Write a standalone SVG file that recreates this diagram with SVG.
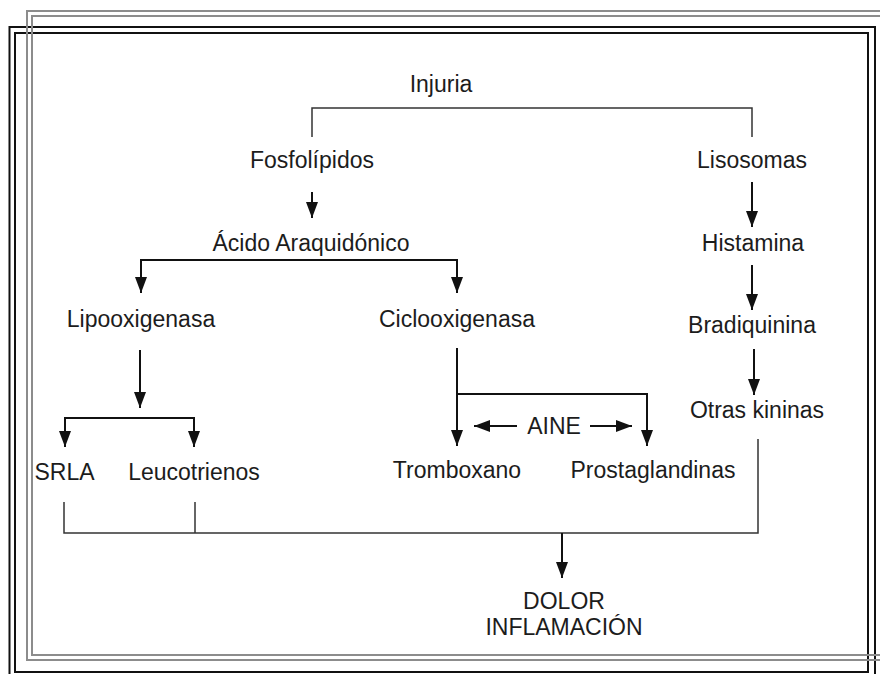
<svg xmlns="http://www.w3.org/2000/svg" width="880" height="674" viewBox="0 0 880 674">
<style>
.t{font-family:"Liberation Sans",Arial,sans-serif;font-size:23px;fill:#1c1c1c;text-anchor:middle}
.a{stroke:#111;stroke-width:2;fill:none;marker-end:url(#ah)}
.s{stroke:#111;stroke-width:2;fill:none}
.th{stroke:#333;stroke-width:1.5;fill:none}
.fg{fill:none;stroke:#8c8c8c;stroke-width:2}
.fb{fill:none;stroke:#111;stroke-width:2}
</style>
<defs>
<marker id="ah" viewBox="0 0 16 12" refX="16" refY="6" markerWidth="16" markerHeight="12" markerUnits="userSpaceOnUse" orient="auto">
<path d="M0,0 L16,6 L0,12 z" fill="#111"/>
</marker>
</defs>
<rect width="880" height="674" fill="#fff"/>
<g id="frame">
<rect class="fb" x="9.5" y="27" width="865.5" height="655"/>
<rect class="fb" x="15" y="33" width="853" height="639" stroke-width="2.5"/>
<path class="fg" d="M890,11 H27 V660 H890"/>
<path class="fg" d="M890,16 H32 V655 H890"/>
</g>
<g id="connectors">
<path class="th" d="M312,137 V108 H752 V137"/>
<line class="a" x1="312" y1="192" x2="312" y2="218"/>
<line class="a" x1="752" y1="182" x2="752" y2="227"/>
<line class="a" x1="752" y1="265" x2="752" y2="310"/>
<line class="a" x1="754" y1="349" x2="754" y2="395"/>
<line class="s" x1="141" y1="260" x2="457" y2="260"/>
<line class="a" x1="141" y1="259" x2="141" y2="293"/>
<line class="a" x1="457" y1="259" x2="457" y2="293"/>
<line class="a" x1="140" y1="350" x2="140" y2="408"/>
<line class="s" x1="64" y1="418" x2="195" y2="418"/>
<line class="a" x1="65" y1="417" x2="65" y2="447"/>
<line class="a" x1="194" y1="417" x2="194" y2="447"/>
<line class="a" x1="457" y1="348" x2="457" y2="446"/>
<path class="s" d="M457,394 H647 V436"/>
<line class="a" x1="647" y1="430" x2="647" y2="446"/>
<line class="a" x1="517" y1="426" x2="474" y2="426"/>
<line class="a" x1="590" y1="426" x2="632" y2="426"/>
<path class="th" d="M64,502 V533 H758 V439"/>
<line class="th" x1="195" y1="502" x2="195" y2="533"/>
<line class="a" x1="562" y1="533" x2="562" y2="578"/>
</g>
<g id="n-injuria"><text class="t" x="441" y="92">Injuria</text></g>
<g id="n-fosfolipidos"><text class="t" x="312" y="168">Fosfolípidos</text></g>
<g id="n-lisosomas"><text class="t" x="752" y="168">Lisosomas</text></g>
<g id="n-acido"><text class="t" x="311" y="251">Ácido Araquidónico</text></g>
<g id="n-histamina"><text class="t" x="753" y="251">Histamina</text></g>
<g id="n-lipooxigenasa"><text class="t" x="141" y="327">Lipooxigenasa</text></g>
<g id="n-ciclooxigenasa"><text class="t" x="457" y="327">Ciclooxigenasa</text></g>
<g id="n-bradiquinina"><text class="t" x="752" y="333">Bradiquinina</text></g>
<g id="n-otras"><text class="t" x="757" y="418">Otras kininas</text></g>
<g id="n-aine"><text class="t" x="554" y="434">AINE</text></g>
<g id="n-srla"><text class="t" x="64.5" y="480">SRLA</text></g>
<g id="n-leucotrienos"><text class="t" x="194" y="480">Leucotrienos</text></g>
<g id="n-tromboxano"><text class="t" x="457" y="478">Tromboxano</text></g>
<g id="n-prostaglandinas"><text class="t" x="653" y="478">Prostaglandinas</text></g>
<g id="n-dolor"><text class="t" x="564" y="609">DOLOR</text><text class="t" x="564" y="635">INFLAMACIÓN</text></g>
</svg>
